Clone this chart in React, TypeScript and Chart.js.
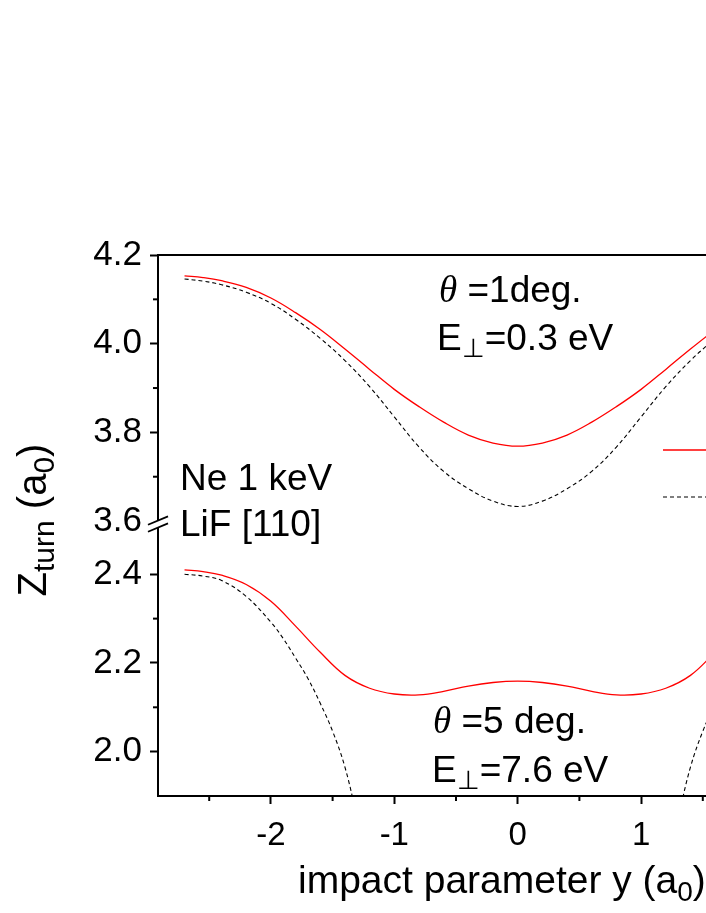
import React, { useEffect, useRef } from 'react';
import { Chart, registerables } from 'chart.js';

Chart.register(...registerables);

// ---- data (impact parameter y in a0, Z_turn in a0) ----
const X_SMOOTH = [-2.7, -2.55, -2.4, -2.2, -2.0, -1.8, -1.6, -1.4, -1.2, -1.0, -0.8, -0.6, -0.4, -0.2, 0, 0.2, 0.4, 0.6, 0.8, 1.0, 1.2, 1.4, 1.6];
const Z_RED_1DEG = [4.153, 4.149, 4.142, 4.127, 4.103, 4.070, 4.032, 3.988, 3.942, 3.897, 3.858, 3.823, 3.794, 3.776, 3.769, 3.776, 3.794, 3.823, 3.858, 3.897, 3.942, 3.988, 4.032];
const Z_DASH_1DEG = [4.146, 4.141, 4.133, 4.116, 4.091, 4.055, 4.012, 3.962, 3.903, 3.835, 3.767, 3.712, 3.673, 3.645, 3.633, 3.645, 3.673, 3.712, 3.767, 3.835, 3.903, 3.962, 4.012];
const Z_RED_5DEG = [2.410, 2.406, 2.398, 2.377, 2.339, 2.283, 2.224, 2.172, 2.143, 2.130, 2.128, 2.136, 2.148, 2.156, 2.159, 2.156, 2.148, 2.136, 2.128, 2.130, 2.143, 2.172, 2.224];
const X_DASH_5DEG = [-2.7, -2.55, -2.4, -2.2, -2.0, -1.9, -1.8, -1.7, -1.6, -1.5, -1.4, -1.3, 0, 1.3, 1.4, 1.5, 1.6];
const Z_DASH_5DEG = [2.400, 2.396, 2.386, 2.350, 2.292, 2.255, 2.211, 2.165, 2.109, 2.046, 1.965, 1.850, null, 1.850, 1.965, 2.046, 2.109];

const X_MIN = -2.915;
const X_MAX = 1.526;
const Y_TOP_RANGE = [3.6, 4.2];
const Y_BOT_RANGE = [1.9, 2.52];

const SANS = '"Liberation Sans", Arial, Helvetica, sans-serif';
const SERIF = '"Liberation Serif", "Times New Roman", serif';

const near = (v: number, step: number) => Math.abs(v / step - Math.round(v / step)) < 1e-6;

type Part = { t: string; size: number; dy?: number; italic?: boolean; serif?: boolean };

function setFont(ctx: CanvasRenderingContext2D, p: Part) {
  ctx.font = `${p.italic ? 'italic ' : ''}${p.size}px ${p.serif ? SERIF : SANS}`;
}
function partsWidth(ctx: CanvasRenderingContext2D, parts: Part[]) {
  let w = 0;
  for (const p of parts) { setFont(ctx, p); w += ctx.measureText(p.t).width; }
  return w;
}
function drawParts(ctx: CanvasRenderingContext2D, parts: Part[], x: number, y: number) {
  let cx = x;
  for (const p of parts) {
    setFont(ctx, p);
    ctx.fillText(p.t, cx, y + (p.dy || 0));
    cx += ctx.measureText(p.t).width;
  }
  return cx;
}

const decorPlugin = {
  id: 'decor',
  afterDraw(chart: any) {
    const { ctx, chartArea: ca, scales } = chart;
    ctx.save();
    ctx.strokeStyle = '#000';
    ctx.fillStyle = '#000';
    ctx.lineWidth = 2;
    const line = (x1: number, y1: number, x2: number, y2: number) => {
      ctx.beginPath(); ctx.moveTo(x1, y1); ctx.lineTo(x2, y2); ctx.stroke();
    };
    // top frame
    line(ca.left - 1, ca.top, ca.right, ca.top);
    // minor ticks
    const yTop = scales.yTop, yBot = scales.yBot, sx = scales.x;
    for (const s of [yTop, yBot]) {
      for (const t of s.ticks) {
        const v = t.value;
        if (near(v, 0.2)) continue;
        if (Math.abs(v - 2.5) < 1e-6 || Math.abs(v - 1.9) < 1e-6) continue;
        const py = s.getPixelForValue(v);
        line(ca.left - 5, py, ca.left, py);
      }
    }
    for (const t of sx.ticks) {
      if (near(t.value, 1)) continue;
      const px = sx.getPixelForValue(t.value);
      line(px, ca.bottom, px, ca.bottom + 5);
    }
    // axis break
    const j = yTop.bottom + 3;
    const L = ca.left;
    const slope = 0.42;
    ctx.fillStyle = '#fff';
    ctx.beginPath();
    ctx.moveTo(L - 4, j - 3.5 + 4 * slope);
    ctx.lineTo(L + 4, j - 3.5 - 4 * slope);
    ctx.lineTo(L + 4, j + 3.5 - 4 * slope);
    ctx.lineTo(L - 4, j + 3.5 + 4 * slope);
    ctx.closePath();
    ctx.fill();
    ctx.lineWidth = 1.8;
    line(L - 10, j - 3.5 + 10 * slope, L + 10, j - 3.5 - 10 * slope);
    line(L - 10, j + 3.5 + 10 * slope, L + 10, j + 3.5 - 10 * slope);

    // legend samples (text cut off at right edge)
    ctx.strokeStyle = '#ff0000';
    ctx.lineWidth = 1.3;
    line(663, 450, ca.right, 450);
    ctx.strokeStyle = '#000';
    ctx.lineWidth = 1.1;
    ctx.setLineDash([4, 3]);
    line(663, 497, ca.right, 497);
    ctx.setLineDash([]);

    // annotations
    ctx.fillStyle = '#000';
    ctx.textBaseline = 'alphabetic';
    ctx.textAlign = 'left';
    const F = 37;
    drawParts(ctx, [{ t: 'θ', size: F, italic: true, serif: true }, { t: ' =1deg.', size: F }], 439, 302);
    drawParts(ctx, [{ t: 'E', size: F }, { t: '⊥', size: 26, dy: 7 }, { t: '=0.3 eV', size: F }], 437, 350);
    drawParts(ctx, [{ t: 'Ne 1 keV', size: F }], 180, 490);
    drawParts(ctx, [{ t: 'LiF [110]', size: F }], 180, 536);
    drawParts(ctx, [{ t: 'θ', size: F, italic: true, serif: true }, { t: ' =5 deg.', size: F }], 433, 733);
    drawParts(ctx, [{ t: 'E', size: F }, { t: '⊥', size: 26, dy: 7 }, { t: '=7.6 eV', size: F }], 432, 782);

    // x title
    drawParts(ctx, [{ t: 'impact parameter y (a', size: 39 }, { t: '0', size: 28, dy: 8 }, { t: ')', size: 39 }], 298, 893);

    // y title (rotated)
    const yParts: Part[] = [{ t: 'Z', size: 40 }, { t: 'turn', size: 30, dy: 8 }, { t: ' (a', size: 40 }, { t: '0', size: 30, dy: 8 }, { t: ')', size: 40 }];
    const w = partsWidth(ctx, yParts);
    ctx.translate(46, 520);
    ctx.rotate(-Math.PI / 2);
    drawParts(ctx, yParts, -w / 2, 0);
    ctx.restore();
  },
};

export default function App() {
  const ref = useRef<HTMLCanvasElement>(null);
  useEffect(() => {
    const canvas = ref.current;
    if (!canvas) return;
    const yTickFont = { family: SANS, size: 35 };
    const xTickFont = { family: SANS, size: 33 };
    const yTickColor = (c: any) => {
      const v = c.tick ? c.tick.value : 0;
      if (Math.abs(v - 3.6) < 1e-6) return 'rgba(0,0,0,0)';
      return near(v, 0.2) ? '#000' : 'rgba(0,0,0,0)';
    };
    const yLabel = (v: any) => (near(Number(v), 0.2) ? Number(v).toFixed(1) : '');
    const noPad = (s: any) => { s.paddingLeft = 0; s.paddingRight = 0; s.paddingTop = 0; s.paddingBottom = 0; };
    const lineBase = { pointRadius: 0, fill: false, tension: 0.4, spanGaps: false };
    const chart = new Chart(canvas, {
      type: 'line',
      data: {
        datasets: [
          { ...lineBase, label: 'θ=1deg', data: X_SMOOTH.map((x, i) => ({ x, y: Z_RED_1DEG[i] })), yAxisID: 'yTop', borderColor: '#ff0000', borderWidth: 1.3 },
          { ...lineBase, label: 'θ=1deg dashed', data: X_SMOOTH.map((x, i) => ({ x, y: Z_DASH_1DEG[i] })), yAxisID: 'yTop', borderColor: '#000', borderWidth: 1.1, borderDash: [4, 3] },
          { ...lineBase, label: 'θ=5deg', data: X_SMOOTH.map((x, i) => ({ x, y: Z_RED_5DEG[i] })), yAxisID: 'yBot', borderColor: '#ff0000', borderWidth: 1.3 },
          { ...lineBase, label: 'θ=5deg dashed', data: X_DASH_5DEG.map((x, i) => ({ x, y: Z_DASH_5DEG[i] })), yAxisID: 'yBot', borderColor: '#000', borderWidth: 1.1, borderDash: [4, 3] },
        ] as any,
      },
      options: {
        animation: false,
        responsive: false,
        maintainAspectRatio: false,
        layout: { padding: { left: 0, right: 0, top: 255, bottom: 0 } },
        plugins: { legend: { display: false }, tooltip: { enabled: false }, title: { display: false } },
        scales: {
          x: {
            type: 'linear',
            position: 'bottom',
            min: X_MIN,
            max: X_MAX,
            afterFit: (s: any) => { s.height = 117; noPad(s); },
            ticks: {
              stepSize: 0.5,
              includeBounds: false,
              autoSkip: false,
              maxRotation: 0,
              padding: 12,
              color: '#000',
              font: xTickFont,
              callback: (v: any) => (near(Number(v), 1) ? String(Math.round(Number(v))) : ''),
            },
            grid: {
              drawOnChartArea: false,
              drawTicks: true,
              tickLength: 8,
              tickWidth: 2,
              tickColor: (c: any) => (c.tick && near(c.tick.value, 1) ? '#000' : 'rgba(0,0,0,0)'),
            },
            border: { display: true, color: '#000', width: 2 },
          },
          yBot: {
            type: 'linear',
            position: 'left',
            stack: 'ybreak',
            stackWeight: Y_BOT_RANGE[1] - Y_BOT_RANGE[0],
            min: Y_BOT_RANGE[0],
            max: Y_BOT_RANGE[1],
            afterFit: (s: any) => { s.width = 158; noPad(s); },
            ticks: { stepSize: 0.1, includeBounds: false, autoSkip: false, padding: 8, color: '#000', font: yTickFont, callback: yLabel },
            grid: { drawOnChartArea: false, drawTicks: true, tickLength: 8, tickWidth: 2, tickColor: yTickColor },
            border: { display: true, color: '#000', width: 2 },
          },
          yTop: {
            type: 'linear',
            position: 'left',
            stack: 'ybreak',
            stackWeight: Y_TOP_RANGE[1] - Y_TOP_RANGE[0],
            min: Y_TOP_RANGE[0],
            max: Y_TOP_RANGE[1],
            afterFit: (s: any) => { s.width = 158; noPad(s); },
            ticks: { stepSize: 0.1, includeBounds: false, autoSkip: false, padding: 8, color: '#000', font: yTickFont, callback: yLabel },
            grid: { drawOnChartArea: false, drawTicks: true, tickLength: 8, tickWidth: 2, tickColor: yTickColor },
            border: { display: true, color: '#000', width: 2 },
          },
        },
      } as any,
      plugins: [decorPlugin],
    });
    return () => chart.destroy();
  }, []);
  return (
    <div style={{ position: 'fixed', left: 0, top: 0, width: 706, height: 913, background: '#fff', overflow: 'hidden' }}>
      <canvas ref={ref} width={706} height={913} style={{ display: 'block', width: 706, height: 913 }} />
    </div>
  );
}
